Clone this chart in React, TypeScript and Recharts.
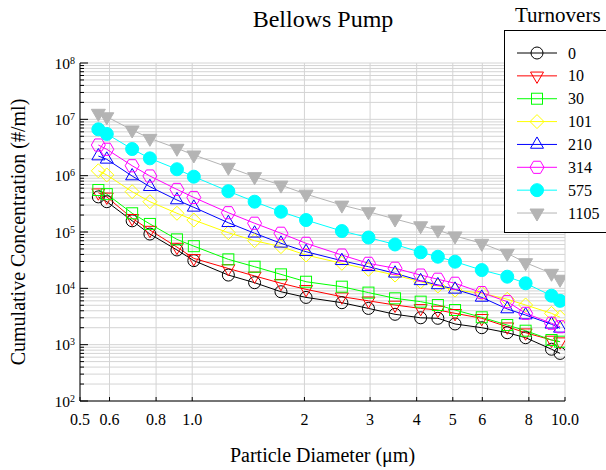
import { LineChart, Line, XAxis, YAxis, CartesianGrid } from "recharts";

// particle diameter (um) for each channel
const diameters = [0.56, 0.59, 0.69, 0.77, 0.91, 1.01, 1.25, 1.47, 1.73, 2.02, 2.52, 2.97, 3.5, 4.1, 4.56, 5.07, 5.98, 7.0, 7.84, 9.2, 9.7];

// cumulative concentration (#/ml) per number of turnovers
const turnovers0 = [4.2e5, 3.45e5, 1.58e5, 9.2e4, 4.8e4, 3.1e4, 1.72e4, 1.26e4, 8.7e3, 6.9e3, 5.56e3, 4.4e3, 3.46e3, 3.0e3, 2.94e3, 2.33e3, 2.0e3, 1.63e3, 1.33e3, 830, 700];
const turnovers10 = [4.98e5, 4.2e5, 1.75e5, 1.08e5, 5.4e4, 3.4e4, 2.25e4, 1.66e4, 1.23e4, 9.6e3, 7.1e3, 6.0e3, 5.06e3, 4.4e3, 4.12e3, 3.6e3, 2.94e3, 2.08e3, 1.63e3, 1.21e3, 1.13e3];
const turnovers30 = [5.56e5, 4.7e5, 2.15e5, 1.39e5, 7.4e4, 5.6e4, 3.27e4, 2.42e4, 1.77e4, 1.31e4, 1.07e4, 8.4e3, 6.65e3, 5.8e3, 5.06e3, 4.12e3, 3.06e3, 2.23e3, 1.77e3, 1.21e3, 1.13e3];
const turnovers101 = [1.22e6, 1.03e6, 5.2e5, 3.45e5, 2.15e5, 1.63e5, 9.7e4, 7.0e4, 5.5e4, 3.9e4, 2.78e4, 2.18e4, 1.72e4, 1.31e4, 1.1e4, 9.3e3, 8.2e3, 6.4e3, 5.06e3, 3.6e3, 3.06e3];
const turnovers210 = [2.23e6, 1.95e6, 9.86e5, 6.37e5, 3.7e5, 2.74e5, 1.46e5, 9.5e4, 6.3e4, 4.47e4, 3.09e4, 2.42e4, 1.85e4, 1.36e4, 1.15e4, 9.6e3, 6.9e3, 4.3e3, 3.36e3, 2.3e3, 1.95e3];
const turnovers314 = [3.5e6, 2.94e6, 1.5e6, 9.86e5, 5.7e5, 4.1e5, 2.2e5, 1.43e5, 9.5e4, 6.3e4, 3.9e4, 2.78e4, 2.27e4, 1.72e4, 1.45e4, 1.23e4, 8.4e3, 5.8e3, 3.6e3, 2.4e3, 2.08e3];
const turnovers575 = [6.65e6, 5.5e6, 2.97e6, 2.03e6, 1.3e6, 9.6e5, 5.3e5, 3.45e5, 2.29e5, 1.63e5, 1.04e5, 7.98e4, 6.0e4, 4.36e4, 3.64e4, 2.97e4, 2.11e4, 1.61e4, 1.23e4, 7.4e3, 6.0e3];
const turnovers1105 = [1.28e7, 1.11e7, 6.47e6, 4.6e6, 3.06e6, 2.33e6, 1.41e6, 9.6e5, 6.8e5, 4.7e5, 3.0e5, 2.29e5, 1.7e5, 1.29e5, 1.08e5, 8.5e4, 6.3e4, 4.19e4, 2.85e4, 1.85e4, 1.45e4];

const xTicks = [0.5, 0.6, 0.8, 1, 2, 3, 4, 5, 6, 8, 10];
const xTickLabels = ["0.5", "0.6", "0.8", "1.0", "2", "3", "4", "5", "6", "8", "10.0"];
const decades = [2, 3, 4, 5, 6, 7, 8];
const majorValues = decades.map((d) => 10 ** d);
const yTicks: number[] = [];
decades.forEach((d) => {
  if (d === 8) {
    yTicks.push(10 ** d);
    return;
  }
  for (let m = 1; m <= 9; m++) yTicks.push(m * 10 ** d);
});

const series = [
  { key: "s0", name: "0", values: turnovers0, color: "#000000", marker: "circle" },
  { key: "s10", name: "10", values: turnovers10, color: "#ff0000", marker: "triDown" },
  { key: "s30", name: "30", values: turnovers30, color: "#00ff00", marker: "square" },
  { key: "s101", name: "101", values: turnovers101, color: "#ffff00", marker: "diamond" },
  { key: "s210", name: "210", values: turnovers210, color: "#0000ff", marker: "triUp" },
  { key: "s314", name: "314", values: turnovers314, color: "#ff00ff", marker: "hexagon" },
  { key: "s575", name: "575", values: turnovers575, color: "#00ffff", marker: "dot" },
  { key: "s1105", name: "1105", values: turnovers1105, color: "#b4b4b4", marker: "triDownFilled" },
];

const rows = diameters.map((d, i) => {
  const row: any = { d };
  series.forEach((s) => (row[s.key] = s.values[i]));
  return row;
});

const FONT = "'Liberation Serif', 'Times New Roman', serif";

const Marker = ({ kind, cx, cy, color }: any) => {
  if (cx == null || cy == null) return null;
  const open = { fill: "none", stroke: color, strokeWidth: 1 };
  const pts = (arr: number[][]) => arr.map((p) => `${cx + p[0]},${cy + p[1]}`).join(" ");
  switch (kind) {
    case "circle":
      return <circle cx={cx} cy={cy} r={6} {...open} />;
    case "triDown":
      return <polygon points={pts([[-6.5, -3.8], [6.5, -3.8], [0, 7.5]])} {...open} />;
    case "square":
      return <rect x={cx - 5.5} y={cy - 5.5} width={11} height={11} {...open} />;
    case "diamond":
      return <polygon points={pts([[0, -7], [7, 0], [0, 7], [-7, 0]])} {...open} />;
    case "triUp":
      return <polygon points={pts([[0, -7.5], [6.5, 3.8], [-6.5, 3.8]])} {...open} />;
    case "hexagon":
      return (
        <polygon
          points={pts([0, 60, 120, 180, 240, 300].map((a) => [7 * Math.cos((a * Math.PI) / 180), 7 * Math.sin((a * Math.PI) / 180)]))}
          {...open}
        />
      );
    case "dot":
      return <circle cx={cx} cy={cy} r={6.5} fill={color} stroke={color} />;
    case "triDownFilled":
      return <polygon points={pts([[-7, -4], [7, -4], [0, 8]])} fill={color} stroke={color} />;
    default:
      return null;
  }
};

const LeftTick = ({ x, y, payload }: any) => {
  const idx = majorValues.indexOf(payload.value);
  const major = idx >= 0;
  return (
    <g>
      <line x1={x} x2={x + (major ? 8 : 4)} y1={y} y2={y} stroke="#000" />
      {major && (
        <text x={x - 5} y={y + 5.5} textAnchor="end" fontSize={15.5} fontFamily={FONT} fill="#000">
          10
          <tspan fontSize={10} dy={-5}>
            {decades[idx]}
          </tspan>
        </text>
      )}
    </g>
  );
};

const RightTick = ({ x, y, payload }: any) => {
  const major = majorValues.includes(payload.value);
  return <line x1={x} x2={x - (major ? 8 : 4)} y1={y} y2={y} stroke="#000" />;
};

const BottomTick = ({ x, y, payload }: any) => (
  <g>
    <line x1={x} x2={x} y1={y} y2={y - 4} stroke="#000" />
    <text x={x} y={y + 23.5} textAnchor="middle" fontSize={16} fontFamily={FONT} fill="#000">
      {xTickLabels[xTicks.indexOf(payload.value)]}
    </text>
  </g>
);

const TopTick = ({ x, y }: any) => <line x1={x} x2={x} y1={y} y2={y + 4} stroke="#000" />;

const XTitle = ({ viewBox }: any) => (
  <text x={viewBox.x + viewBox.width / 2} y={462} textAnchor="middle" fontSize={20} fontFamily={FONT} fill="#000">
    Particle Diameter (μm)
  </text>
);

const YTitle = ({ viewBox }: any) => {
  const cy = viewBox.y + viewBox.height / 2;
  return (
    <text x={25} y={cy} transform={`rotate(-90 25 ${cy})`} textAnchor="middle" fontSize={20} fontFamily={FONT} fill="#000">
      Cumulative Concentration (#/ml)
    </text>
  );
};

const legendTop = 53;
const legendStep = 22.86;

const App = () => {
  return (
    <div style={{ position: "fixed", left: 0, top: 0, width: 606, height: 470, overflow: "hidden", background: "#fff" }}>
      <LineChart width={606} height={470} data={rows} margin={{ top: 63, right: 41, bottom: 0, left: 0 }}>
        <CartesianGrid stroke="#d4d4d4" />
        <XAxis
          dataKey="d"
          type="number"
          scale="log"
          domain={[0.5, 10]}
          allowDataOverflow
          ticks={xTicks}
          interval={0}
          height={69}
          tickSize={0}
          tickMargin={0}
          tickLine={false}
          axisLine={{ stroke: "#000" }}
          tick={<BottomTick />}
          label={<XTitle />}
        />
        <XAxis
          xAxisId="top"
          orientation="top"
          mirror
          type="number"
          scale="log"
          domain={[0.5, 10]}
          allowDataOverflow
          ticks={xTicks}
          interval={0}
          height={0}
          tickSize={0}
          tickMargin={0}
          tickLine={false}
          axisLine={{ stroke: "#000" }}
          tick={<TopTick />}
        />
        <YAxis
          type="number"
          scale="log"
          domain={[100, 1e8]}
          allowDataOverflow
          ticks={yTicks}
          interval={0}
          width={80}
          tickSize={0}
          tickMargin={0}
          tickLine={false}
          axisLine={{ stroke: "#000" }}
          tick={<LeftTick />}
          label={<YTitle />}
        />
        <YAxis
          yAxisId="right"
          orientation="right"
          mirror
          type="number"
          scale="log"
          domain={[100, 1e8]}
          allowDataOverflow
          ticks={yTicks}
          interval={0}
          width={0}
          tickSize={0}
          tickMargin={0}
          tickLine={false}
          axisLine={{ stroke: "#000" }}
          tick={<RightTick />}
        />
        {series.map((s) => (
          <Line
            key={s.key}
            dataKey={s.key}
            name={s.name}
            stroke={s.color}
            strokeWidth={1}
            isAnimationActive={false}
            activeDot={false}
            dot={(p: any) => <Marker key={`${s.key}-${p.index}`} kind={s.marker} cx={p.cx} cy={p.cy} color={s.color} />}
          />
        ))}
      </LineChart>
      <svg width={606} height={470} style={{ position: "absolute", left: 0, top: 0, pointerEvents: "none" }}>
        <text x={323} y={26.5} textAnchor="middle" fontSize={24} fontFamily={FONT} fill="#000">
          Bellows Pump
        </text>
        <text x={515} y={21.5} fontSize={21} fontFamily={FONT} fill="#000">
          Turnovers
        </text>
        <rect x={504.5} y={30.5} width={120} height={202} fill="#fff" stroke="#000" />
        {series.map((s, i) => {
          const cy = legendTop + i * legendStep;
          return (
            <g key={s.key}>
              <line x1={517} x2={557} y1={cy} y2={cy} stroke={s.color} />
              <Marker kind={s.marker} cx={537} cy={cy} color={s.color} />
              <text x={568} y={cy + 5.5} fontSize={16} fontFamily={FONT} fill="#000">
                {s.name}
              </text>
            </g>
          );
        })}
      </svg>
    </div>
  );
};

export default App;
